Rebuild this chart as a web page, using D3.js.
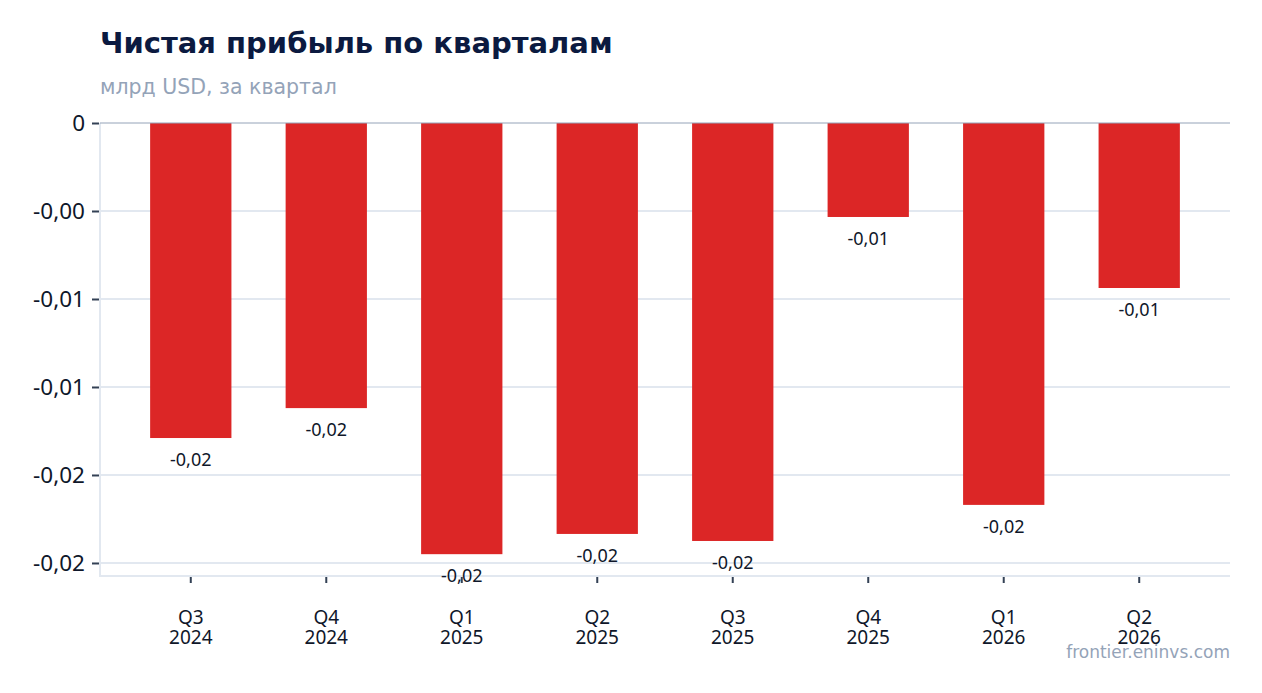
<!DOCTYPE html>
<html>
<head>
<meta charset="utf-8">
<script src="https://cdn.jsdelivr.net/npm/d3@7"></script>
<style>
  body { margin: 0; background: #fff; }
  svg { display: block; font-family: "DejaVu Sans", sans-serif; }
</style>
</head>
<body>
<svg width="1262" height="693"></svg>
<script>
const quarters = ["Q3", "Q4", "Q1", "Q2", "Q3", "Q4", "Q1", "Q2"];
const years = ["2024", "2024", "2025", "2025", "2025", "2025", "2026", "2026"];
const netProfit = [-0.0179, -0.0162, -0.0245, -0.02335, -0.02375, -0.00534, -0.0217, -0.009375];
const yTickValues = [0, -0.005, -0.01, -0.015, -0.02, -0.025];
const yTickLabels = ["0", "-0,00", "-0,01", "-0,01", "-0,02", "-0,02"];

const plotLeft = 100, plotRight = 1230, plotTop = 123, plotBottom = 576;

const svg = d3.select("svg");
const keys = quarters.map((q, i) => q + " " + years[i]);

const x = d3.scaleBand()
    .domain(keys)
    .range([plotLeft, plotRight])
    .paddingInner(0.4)
    .paddingOuter(0.37);

const y = d3.scaleLinear()
    .domain([-0.02574, 0])
    .range([plotBottom, plotTop]);

const fmt = (v) => d3.format(".2f")(v).replace("−", "-").replace(".", ",");

// grid
svg.append("g")
    .selectAll("line")
    .data(yTickValues.slice(1))
    .enter().append("line")
        .attr("x1", plotLeft)
        .attr("x2", plotRight)
        .attr("y1", (d) => y(d))
        .attr("y2", (d) => y(d))
        .attr("stroke", "#e2e8f0")
        .attr("stroke-width", 2);

// frame lines
svg.append("line")
    .attr("x1", plotLeft).attr("x2", plotLeft)
    .attr("y1", plotTop).attr("y2", plotBottom + 1)
    .attr("stroke", "#e2e8f0").attr("stroke-width", 2);
svg.append("line")
    .attr("x1", plotLeft).attr("x2", plotRight)
    .attr("y1", plotBottom).attr("y2", plotBottom)
    .attr("stroke", "#e2e8f0").attr("stroke-width", 2);

// bars
svg.append("g")
    .selectAll("rect")
    .data(netProfit)
    .enter().append("rect")
        .attr("x", (d, i) => x(keys[i]))
        .attr("width", x.bandwidth())
        .attr("y", y(0))
        .attr("height", (d) => y(d) - y(0))
        .attr("fill", "#dc2626");

// zero line
svg.append("line")
    .attr("x1", plotLeft).attr("x2", plotRight)
    .attr("y1", y(0)).attr("y2", y(0))
    .attr("stroke", "#94a3b8").attr("stroke-width", 1);

// y axis
const yAxis = svg.append("g")
    .attr("transform", `translate(${plotLeft - 1},0)`)
    .call(d3.axisLeft(y)
        .tickValues(yTickValues)
        .tickFormat((d, i) => yTickLabels[i])
        .tickSize(7)
        .tickPadding(7));
yAxis.select(".domain").remove();
yAxis.selectAll(".tick line").attr("stroke", "#334155").attr("stroke-width", 2);
yAxis.selectAll(".tick text")
    .attr("fill", "#0f172a")
    .style("font-size", "22.5px")
    .style("font-family", "'Noto Sans'");

// x axis
const xAxis = svg.append("g")
    .attr("transform", `translate(0,${plotBottom + 1})`)
    .call(d3.axisBottom(x).tickSize(6).tickFormat(""));
xAxis.select(".domain").remove();
xAxis.selectAll(".tick line").attr("stroke", "#334155").attr("stroke-width", 2);

const xLabels = svg.append("g")
    .selectAll("text")
    .data(keys)
    .enter().append("text")
        .attr("text-anchor", "middle")
        .attr("fill", "#0f172a")
        .style("font-family", "'Noto Sans'")
        .style("font-size", "19px");
xLabels.append("tspan")
    .attr("x", (d) => x(d) + x.bandwidth() / 2)
    .attr("y", 624)
    .text((d, i) => quarters[i]);
xLabels.append("tspan")
    .attr("x", (d) => x(d) + x.bandwidth() / 2)
    .attr("y", 644)
    .text((d, i) => years[i]);

// value labels
svg.append("g")
    .selectAll("text")
    .data(netProfit)
    .enter().append("text")
        .attr("x", (d, i) => x(keys[i]) + x.bandwidth() / 2)
        .attr("y", (d) => y(d) + 28)
        .attr("text-anchor", "middle")
        .attr("fill", "#0f172a")
        .style("font-family", "'Noto Sans'")
        .style("font-size", "18px")
        .text(fmt);

// titles
svg.append("text")
    .attr("x", 100).attr("y", 53)
    .attr("fill", "#0b1a40")
    .style("font-size", "29px")
    .style("font-weight", "bold")
    .text("Чистая прибыль по кварталам");

svg.append("text")
    .attr("x", 100).attr("y", 94)
    .attr("fill", "#94a3b8")
    .style("font-size", "20.5px")
    .text("млрд USD, за квартал");

svg.append("text")
    .attr("x", 1230).attr("y", 658)
    .attr("text-anchor", "end")
    .attr("fill", "#94a3b8")
    .style("font-size", "17px")
    .text("frontier.eninvs.com");
</script>
</body>
</html>
